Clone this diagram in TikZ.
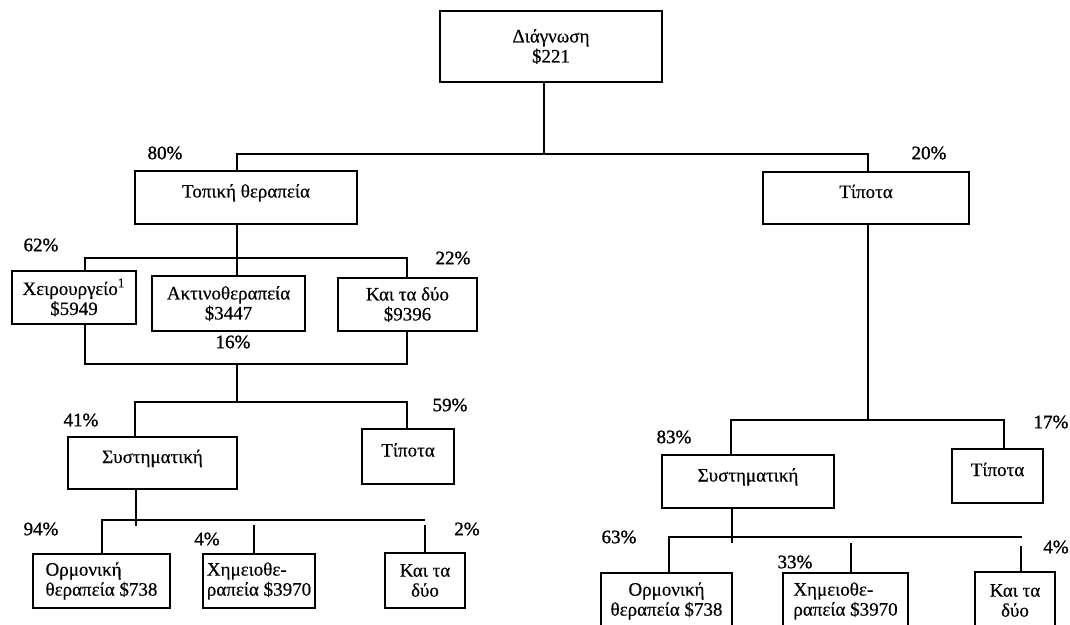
\documentclass[tikz,border=0pt]{standalone}
\usepackage{fontspec}
\setmainfont[FakeBold=0.4]{Liberation Serif}
\newfontfamily\pctfont[FakeBold=1.2]{Liberation Serif}
\begin{document}
\begin{tikzpicture}[x=0.5pt,y=-0.5pt]
\tikzset{
 box/.style={draw, line width=1.1pt, inner sep=0pt, outer sep=0pt, font=\fontsize{9.5}{10}\selectfont, align=center},
 up/.style={text height=5pt, text depth=5pt},
 pct/.style={font=\pctfont\fontsize{9.5}{10}\selectfont, inner sep=0pt},
 wire/.style={line width=0.9pt},
}
\fill[white] (0,0) rectangle (1070,625);
\useasboundingbox (0,0) rectangle (1070,625);
\clip (0,0) rectangle (1070,625);

% boxes
\node[box, minimum width=111pt, minimum height=35.5pt] (diag) at (551,46.5) {Διάγνωση\\\$221};
\node[box, up, minimum width=111pt, minimum height=26.5pt] (topl) at (246,197.5) {Τοπική θεραπεία};
\node[box, up, minimum width=103pt, minimum height=26pt] (nil1) at (866,198) {Τίποτα};
\node[box, minimum width=62pt, minimum height=26.5pt] (surg) at (74,297.5) {Χειρουργείο\textsuperscript{1}\\\$5949};
\node[box, minimum width=76.5pt, minimum height=27.5pt] (radio) at (228.5,303.5) {Ακτινοθεραπεία\\\$3447};
\node[box, minimum width=69.5pt, minimum height=26.5pt] (both1) at (407.5,304.5) {Και τα δύο\\\$9396};
\node[box, up, minimum width=84.5pt, minimum height=26pt] (sys1) at (152.5,463) {Συστηματική};
\node[box, up, minimum width=46pt, minimum height=27.5pt] (nil2) at (408,456.5) {Τίποτα};
\node[box, align=left, minimum width=68.5pt, minimum height=27pt] (horm1) at (101.5,581) {Ορμονική\\θεραπεία \$738};
\node[box, align=left, minimum width=56pt, minimum height=27pt] (chemo1) at (259,581) {Χημειοθε-\\ραπεία \$3970};
\node[box, minimum width=40pt, minimum height=27.5pt] (both2) at (425,580.5) {Και τα\\δύο};
\node[box, up, minimum width=86pt, minimum height=26.5pt] (sys2) at (748,481.5) {Συστηματική};
\node[box, up, minimum width=45.5pt, minimum height=27pt] (nil3) at (997.5,476) {Τίποτα};
\node[box, minimum width=65.5pt, minimum height=28pt] (horm2) at (666.5,601) {Ορμονική\\θεραπεία \$738};
\node[box, align=left, minimum width=62.5pt, minimum height=28pt] (chemo2) at (845.5,601) {Χημειοθε-\\ραπεία \$3970};
\node[box, minimum width=40pt, minimum height=28.5pt] (both3) at (1015,600.5) {Και τα\\δύο};

% connectors
\coordinate (j0) at (544,154);
\coordinate (b0l) at (237,154);
\coordinate (b0r) at (868,154);
\draw[wire] (diag.south -| j0) -- (j0);
\draw[wire] (topl.north -| b0l) -- (b0l) -- (b0r) -- (nil1.north -| b0r);

\coordinate (b1l) at (85,258);
\coordinate (b1m) at (237,258);
\coordinate (b1r) at (407,258);
\draw[wire] (topl.south -| b1m) -- (b1m);
\draw[wire] (surg.north -| b1l) -- (b1l) -- (b1r) -- (both1.north -| b1r);
\draw[wire] (b1m) -- (radio.north -| b1m);

\coordinate (m1l) at (85,364);
\coordinate (m1m) at (237,364);
\coordinate (m1r) at (407,364);
\draw[wire] (surg.south -| m1l) -- (m1l) -- (m1r) -- (both1.south -| m1r);
\coordinate (b2l) at (135,402);
\coordinate (b2m) at (237,402);
\coordinate (b2r) at (407,402);
\draw[wire] (m1m) -- (b2m);
\draw[wire] (sys1.north -| b2l) -- (b2l) -- (b2r) -- (nil2.north -| b2r);

\coordinate (b3l) at (102,520);
\coordinate (b3r) at (425,520);
\coordinate (s1x) at (136,526);
\coordinate (c1t) at (254,525);
\coordinate (c1r) at (425,525);
\draw[wire] (sys1.south -| s1x) -- (s1x);
\draw[wire] (horm1.north -| b3l) -- (b3l) -- (b3r);
\draw[wire] (c1t) -- (chemo1.north -| c1t);
\draw[wire] (c1r) -- (both2.north -| c1r);

\coordinate (b4l) at (731,420);
\coordinate (b4m) at (868,420);
\coordinate (b4r) at (1004,420);
\draw[wire] (nil1.south -| b4m) -- (b4m);
\draw[wire] (sys2.north -| b4l) -- (b4l) -- (b4r) -- (nil3.north -| b4r);

\coordinate (b5l) at (669,537);
\coordinate (b5r) at (1022,537);
\coordinate (s2x) at (732,543);
\coordinate (c2t) at (851,543);
\coordinate (c2r) at (1021,546);
\draw[wire] (sys2.south -| s2x) -- (s2x);
\draw[wire] (horm2.north -| b5l) -- (b5l) -- (b5r);
\draw[wire] (c2t) -- (chemo2.north -| c2t);
\draw[wire] (c2r) -- (both3.north -| c2r);

% percentages
\node[pct] (p80) at (165,153) {80\%};
\node[pct] (p20) at (929,153) {20\%};
\node[pct] (p62) at (41,245) {62\%};
\node[pct] (p22) at (453,258) {22\%};
\node[pct] (p16) at (233,342) {16\%};
\node[pct] (p41) at (81,420) {41\%};
\node[pct] (p59) at (450,405) {59\%};
\node[pct] (p94) at (41,529) {94\%};
\node[pct] (p4a) at (207,539) {4\%};
\node[pct] (p2) at (467,529) {2\%};
\node[pct] (p83) at (674,437) {83\%};
\node[pct] (p17) at (1051,422) {17\%};
\node[pct] (p63) at (619,537) {63\%};
\node[pct] (p33) at (795,562) {33\%};
\node[pct] (p4b) at (1056,547) {4\%};
\end{tikzpicture}
\end{document}
